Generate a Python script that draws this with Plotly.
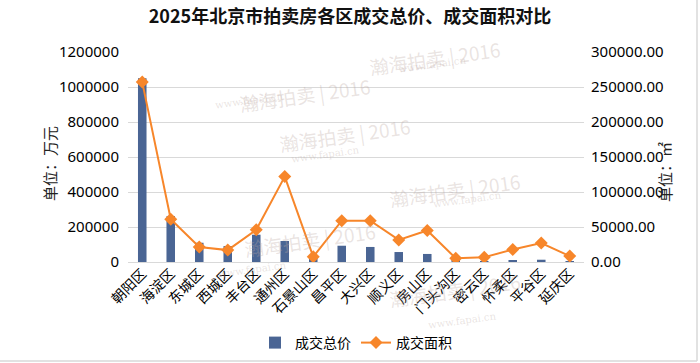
import plotly.graph_objects as go

districts = ["朝阳区", "海淀区", "东城区", "西城区", "丰台区", "通州区", "石景山区", "昌平区",
             "大兴区", "顺义区", "房山区", "门头沟区", "密云区", "怀柔区", "平谷区", "延庆区"]
total_price = [1050000, 262000, 110000, 91000, 156000, 120000, 24000, 93000,
               86000, 57000, 46000, 6000, 5000, 9000, 13000, 5000]
total_area = [257000, 61000, 21500, 17000, 46000, 122000, 7500, 59000,
              59000, 31500, 45000, 5300, 6700, 18000, 27000, 8500]

left_ticks = [0, 200000, 400000, 600000, 800000, 1000000, 1200000]
right_ticks = [0, 50000, 100000, 150000, 200000, 250000, 300000]

FONT = "Noto Sans, Noto Sans CJK SC, sans-serif"
L, R, T, B = 128, 584, 52, 262
PW, PH = R - L, B - T


def px(x):
    return (x - L) / PW


def py(y):
    return (B - y) / PH


fig = go.Figure()
fig.add_trace(go.Bar(
    x=districts, y=total_price, name="成交总价",
    marker=dict(color="#4A6594", line=dict(width=0)),
    yaxis="y",
))
fig.add_trace(go.Scatter(
    x=districts, y=total_area, name="成交面积", mode="lines+markers",
    line=dict(color="#F7862A", width=2),
    marker=dict(symbol="diamond", size=10, color="#F7862A"),
    yaxis="y2",
))

# faint watermarks
wm = [(235, 70, 212, 88), (345, 135, 325, 154), (505, 33, 470, 52),
      (525, 190, 505, 212), (240, 265, 215, 282), (525, 315, 500, 333)]
for tx, ty, ux, uy in wm:
    fig.add_annotation(x=px(tx), y=py(ty), xref="paper", yref="paper",
                       text="瀚海拍卖 | 2016", showarrow=False, textangle=-8,
                       font=dict(family="Noto Sans CJK SC", size=19, color="rgba(190,170,165,0.32)"))
    fig.add_annotation(x=px(ux), y=py(uy), xref="paper", yref="paper",
                       text="www.fapai.cn", showarrow=False, textangle=-8,
                       font=dict(family="DejaVu Serif", size=10, color="rgba(190,170,165,0.32)"))

# axis titles
fig.add_annotation(x=px(38), y=py(164), xref="paper", yref="paper",
                   text="单位：万元", showarrow=False, textangle=-90,
                   font=dict(family=FONT, size=15, color="#222"))
fig.add_annotation(x=px(677), y=py(172), xref="paper", yref="paper",
                   text="单位：㎡", showarrow=False, textangle=-90,
                   font=dict(family=FONT, size=15, color="#222"))

fig.update_layout(
    width=700, height=363,
    margin=dict(l=L, r=700 - R, t=T, b=363 - B, autoexpand=False),
    paper_bgcolor="white", plot_bgcolor="white",
    font=dict(family=FONT, size=14, color="#000"),
    title=dict(text="<b>2025年北京市拍卖房各区成交总价、成交面积对比</b>",
               x=0.5, xanchor="center", y=1 - 17 / 363, yanchor="middle",
               font=dict(family="Noto Sans CJK SC", size=18, color="#111")),
    bargap=0.7,
    showlegend=True,
    legend=dict(orientation="h", x=0.5, xanchor="center", y=py(343), yanchor="middle",
                font=dict(size=14), itemwidth=30, bgcolor="rgba(0,0,0,0)"),
    xaxis=dict(showgrid=False, tickangle=-45, ticks="", showline=False,
               range=[-0.5, len(districts) - 0.5], automargin=False,
               tickfont=dict(size=14)),
    yaxis=dict(range=[0, 1200000], tickvals=left_ticks, tickformat="d",
               showgrid=True, gridcolor="#D9D9D9", gridwidth=1,
               zeroline=True, zerolinecolor="#D9D9D9", zerolinewidth=1,
               ticks="", ticklabelstandoff=8, automargin=False, tickfont=dict(size=15)),
    yaxis2=dict(range=[0, 300000], tickvals=right_ticks, tickformat=".2f",
                overlaying="y", side="right", showgrid=False, zeroline=False,
                ticks="", ticklabelstandoff=6, automargin=False, tickfont=dict(size=15)),
    shapes=[
        dict(type="line", xref="paper", yref="paper", x0=px(0), x1=px(697),
             y0=py(361), y1=py(361), line=dict(color="#D9D9D9", width=1.5)),
        dict(type="line", xref="paper", yref="paper", x0=px(697), x1=px(697),
             y0=py(361), y1=py(0), line=dict(color="#D9D9D9", width=1.5)),
    ],
)

fig.write_html("out.html", config={"displayModeBar": False},
               post_script="document.body.style.margin='0';")
